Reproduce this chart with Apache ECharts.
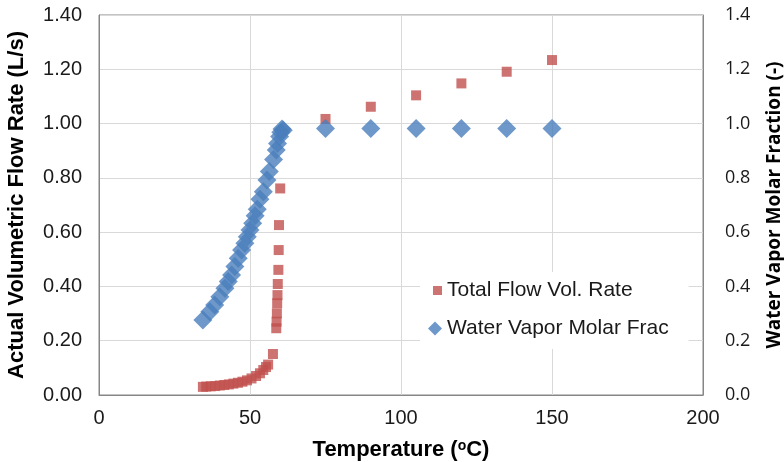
<!DOCTYPE html>
<html>
<head>
<meta charset="utf-8">
<script src="https://cdn.jsdelivr.net/npm/echarts@6/dist/echarts.min.js"></script>
<style>
html,body{margin:0;padding:0;background:#fff;}
#chart{width:784px;height:462px;}
</style>
</head>
<body>
<div id="chart"></div>
<script>
// Total flow volumetric rate (L/s) vs temperature (°C)
const flowTemp = [34.4, 35.5, 37.0, 38.5, 40.0, 41.5, 43.0, 44.5, 46.0, 47.5, 49.0, 50.5, 52.0, 53.3, 54.4, 55.3, 56.0, 57.6,
  58.7, 58.8, 58.9, 59.0, 59.1, 59.2, 59.4, 59.5, 59.6, 60.0, 75, 90, 105, 120, 135, 150];
const flowRate = [0.030, 0.031, 0.032, 0.033, 0.035, 0.037, 0.039, 0.042, 0.045, 0.049, 0.054, 0.061, 0.070, 0.080, 0.092, 0.103, 0.112, 0.151,
  0.246, 0.270, 0.301, 0.338, 0.368, 0.409, 0.461, 0.534, 0.626, 0.761, 1.017, 1.062, 1.104, 1.148, 1.191, 1.234];
// Water vapor molar fraction (-) vs temperature (°C)
const fracTemp = [34.4, 36.7, 38.3, 40.0, 41.7, 42.8, 43.9, 45.0, 46.1, 47.2, 48.3, 49.1, 50.0, 50.9, 51.7, 52.4, 53.3, 54.4,
  55.6, 56.4, 57.8, 58.7, 59.1, 59.8, 60.2, 60.6, 61.0, 75, 90, 105, 120, 135, 150];
const fracValue = [0.276, 0.307, 0.332, 0.362, 0.393, 0.418, 0.442, 0.473, 0.504, 0.534, 0.559, 0.583, 0.608, 0.633, 0.660, 0.684, 0.721, 0.749,
  0.792, 0.823, 0.868, 0.903, 0.927, 0.952, 0.968, 0.980, 0.975, 0.982, 0.982, 0.982, 0.982, 0.982, 0.982];
const xTicks = [0, 50, 100, 150, 200];
const leftTicks = ['0.00','0.20','0.40','0.60','0.80','1.00','1.20','1.40'];
const rightTicks = ['0.0','0.2','0.4','0.6','0.8','1.0','1.2','1.4'];

const flowData = flowTemp.map((t, i) => [t, flowRate[i]]);
const fracData = fracTemp.map((t, i) => [t, fracValue[i]]);

const chart = echarts.init(document.getElementById('chart'), null, {renderer: 'canvas'});
const gridColor = '#d9d9d9';
const axisColor = '#868686';
const arial = 'Liberation Sans, Arial, sans-serif';
const sans2 = 'Open Sans, Noto Sans, sans-serif';
chart.setOption({
  animation: false,
  backgroundColor: '#ffffff',
  grid: {left: 99, right: 81, top: 15, bottom: 67, show: true, borderColor: axisColor, borderWidth: 1,
    containLabel: false, outerBoundsMode: 'none'},
  legend: [
    {
      orient: 'vertical',
      left: 420, top: 272,
      backgroundColor: '#ffffff',
      padding: [8, 56, 48, 13],
      itemWidth: 9, itemHeight: 9,
      textStyle: {fontFamily: arial, fontSize: 21, color: '#1a1a1a'},
      data: [{name: 'Total Flow Vol. Rate', icon: 'rect', itemStyle: {color: '#c0504d'}}]
    },
    {
      orient: 'vertical',
      left: 428, top: 318,
      padding: 0,
      itemWidth: 14, itemHeight: 14,
      textStyle: {fontFamily: arial, fontSize: 21, color: '#1a1a1a'},
      data: [{name: 'Water Vapor Molar Frac', icon: 'diamond', itemStyle: {color: '#4a7ebb'}}]
    }
  ],
  xAxis: {
    type: 'value', min: 0, max: 200, interval: 50,
    name: 'Temperature ({sup|o}C)',
    nameLocation: 'middle', nameGap: 44,
    nameTextStyle: {fontFamily: arial, fontSize: 22, fontWeight: 'bold', color: '#000',
      rich: {sup: {fontSize: 14, fontWeight: 'bold', verticalAlign: 'top', padding: [0,0,8,0], color:'#000', fontFamily: arial}}},
    axisLine: {show: true, lineStyle: {color: axisColor}},
    axisTick: {show: false},
    axisLabel: {margin: 13, fontFamily: arial, fontSize: 20, color: '#1a1a1a',
      formatter: v => xTicks.includes(v) ? String(v) : ''},
    splitLine: {show: true, lineStyle: {color: gridColor}}
  },
  yAxis: [
    {
      type: 'value', min: 0, max: 1.4, interval: 0.2, position: 'left',
      name: 'Actual Volumetric Flow Rate (L/s)',
      nameLocation: 'middle', nameGap: 71, nameRotate: 90,
      nameTextStyle: {fontFamily: arial, fontSize: 22, fontWeight: 'bold', color: '#000'},
      axisLine: {show: true, lineStyle: {color: axisColor}},
      axisTick: {show: false},
      axisLabel: {margin: 17, fontFamily: arial, fontSize: 20, color: '#1a1a1a',
        formatter: v => leftTicks[Math.round(v / 0.2)]},
      splitLine: {show: true, lineStyle: {color: gridColor}}
    },
    {
      type: 'value', min: 0, max: 1.4, interval: 0.2, position: 'right',
      name: 'Water Vapor Molar Fraction (-)',
      nameLocation: 'middle', nameGap: 62, nameRotate: 90,
      nameTextStyle: {fontFamily: sans2, fontSize: 19, fontWeight: 'bold', color: '#000'},
      axisLine: {show: true, lineStyle: {color: axisColor}},
      axisTick: {show: false},
      axisLabel: {margin: 22, fontFamily: sans2, fontSize: 18, color: '#1a1a1a',
        formatter: v => rightTicks[Math.round(v / 0.2)]},
      splitLine: {show: false}
    }
  ],
  series: [
    {
      name: 'Total Flow Vol. Rate', type: 'scatter', yAxisIndex: 0,
      symbol: 'rect', symbolSize: 10,
      itemStyle: {color: '#c0504d'},
      data: flowData, z: 2
    },
    {
      name: 'Water Vapor Molar Frac', type: 'scatter', yAxisIndex: 1,
      symbol: 'diamond', symbolSize: 19,
      itemStyle: {color: '#4a7ebb'},
      data: fracData, z: 3
    }
  ]
});
</script>
</body>
</html>
